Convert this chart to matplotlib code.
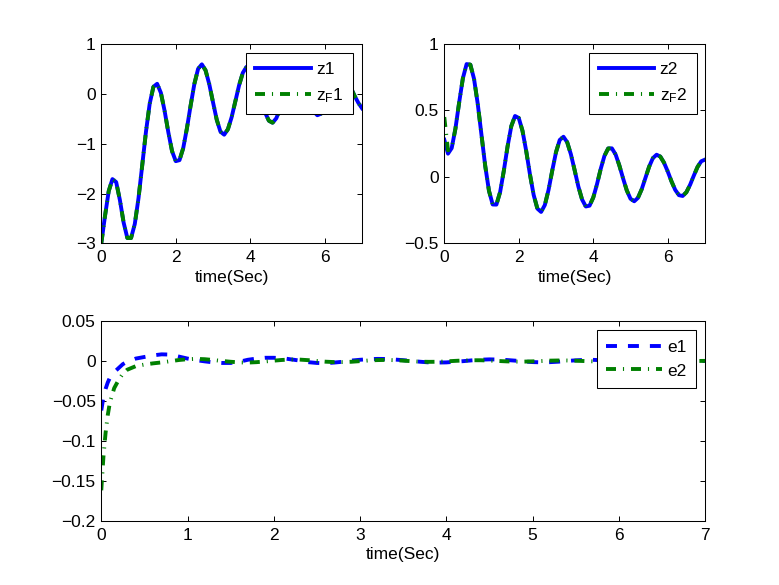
import numpy as np
import matplotlib
matplotlib.use("Agg")
import matplotlib.pyplot as plt
from matplotlib.ticker import FuncFormatter

# tempo (s) das curvas de cima
t = np.round(np.arange(0, 7.05, 0.1), 2)

z1 = [-3.00, -2.45, -1.95, -1.71, -1.77, -2.13, -2.58, -2.89, -2.89, -2.61,
      -2.09, -1.43, -0.76, -0.20, 0.14, 0.20, 0.02, -0.34, -0.77, -1.15,
      -1.35, -1.33, -1.09, -0.69, -0.23, 0.20, 0.50, 0.59, 0.47, 0.19,
      -0.17, -0.52, -0.76, -0.82, -0.71, -0.47, -0.15, 0.17, 0.42, 0.54,
      0.52, 0.37, 0.13, -0.14, -0.38, -0.54, -0.58, -0.49, -0.30, -0.05,
      0.19, 0.37, 0.43, 0.38, 0.23, 0.02, -0.19, -0.35, -0.43, -0.40,
      -0.29, -0.12, 0.06, 0.22, 0.31, 0.31, 0.25, 0.12, -0.04, -0.18,
      -0.29]
zf1 = list(z1)

z2 = [0.280, 0.175, 0.217, 0.363, 0.560, 0.742, 0.848, 0.844, 0.736, 0.547,
      0.314, 0.082, -0.104, -0.207, -0.208, -0.113, 0.048, 0.230, 0.382, 0.458,
      0.443, 0.347, 0.195, 0.020, -0.135, -0.238, -0.263, -0.211, -0.097, 0.049,
      0.186, 0.278, 0.302, 0.261, 0.170, 0.051, -0.072, -0.170, -0.222, -0.216,
      -0.155, -0.055, 0.060, 0.158, 0.214, 0.215, 0.169, 0.087, -0.010, -0.101,
      -0.164, -0.183, -0.157, -0.093, -0.008, 0.077, 0.141, 0.167, 0.153, 0.107,
      0.041, -0.033, -0.097, -0.137, -0.143, -0.115, -0.059, 0.010, 0.075, 0.118,
      0.130]
# o filtro começa mais alto e logo encontra z2
zf2_inicio = [0.45, 0.20]
zf2 = zf2_inicio + z2[2:]

# tempo dos erros: mais denso no começo
te = np.concatenate([[0, 0.025, 0.05, 0.075, 0.1, 0.15, 0.2, 0.25, 0.3],
                     np.round(np.arange(0.4, 7.05, 0.1), 2)])

e1 = [-0.062, -0.045, -0.035, -0.027, -0.021, -0.014, -0.009, -0.004, -0.001,
      0.003, 0.005, 0.007, 0.0083, 0.008, 0.0055, 0.003, 0.001, -0.0005, -0.0018,
      -0.0025, -0.0025, -0.001, 0.0015, 0.003, 0.004, 0.004, 0.0035, 0.002, 0.0005,
      -0.0015, -0.0025, -0.0028, -0.002, -0.001, 0.0005, 0.0015, 0.0022, 0.0026, 0.0025,
      0.0018, 0.001, 0.0, -0.001, -0.0018, -0.002, -0.0018, -0.001, -0.0002, 0.0008,
      0.0016, 0.002, 0.0018, 0.0012, 0.0004, -0.0006, -0.0014, -0.0017, -0.0015, -0.0009,
      0.0, 0.0008, 0.0013, 0.0014, 0.001, 0.0003, -0.0004, -0.001, -0.0012, -0.0009,
      -0.0003, 0.0003, 0.0009, 0.001, 0.0008, 0.0003, -0.0001]

e2 = [-0.162, -0.12, -0.09, -0.068, -0.052, -0.034, -0.024, -0.016, -0.011,
      -0.0065, -0.0045, -0.003, -0.0018, -0.0003, 0.0012, 0.0022, 0.0026, 0.0022, 0.0012,
      0.0, -0.001, -0.0018, -0.002, -0.0015, -0.0006, 0.0004, 0.0013, 0.0018, 0.0017,
      0.001, 0.0, -0.0009, -0.0014, -0.0014, -0.001, -0.0002, 0.0006, 0.0011, 0.0013,
      0.001, 0.0004, -0.0003, -0.0009, -0.0011, -0.001, -0.0005, 0.0001, 0.0006, 0.0009,
      0.0009, 0.0005, 0.0, -0.0005, -0.0008, -0.0008, -0.0005, -0.0001, 0.0004, 0.0006,
      0.0006, 0.0003, -0.0001, -0.0005, -0.0006, -0.0005, -0.0002, 0.0002, 0.0004, 0.0004,
      0.0002, -0.0001, -0.0003, -0.0004, -0.0002, 0.0, 0.0001]

yticks_z1 = [-3, -2, -1, 0, 1]
yticks_z2 = [-0.5, 0, 0.5, 1]
yticks_e = [-0.2, -0.15, -0.1, -0.05, 0, 0.05]

plt.rcParams['font.family'] = ['Liberation Sans', 'DejaVu Sans']
plt.rcParams['font.size'] = 12.5
plt.rcParams['lines.scale_dashes'] = False

AZUL = (0, 0, 1)
VERDE = (0, 0.5, 0)
LW = 2.8
FS = 12.5
TRACO = (0, (7.9, 7.9))
TRACO_PONTO = (0, (7.2, 5.0, 0.8, 5.0))


def formato(v, pos):
    return ('%g' % v).replace('-', '\u2212')


def estilo_eixo(ax, xticks, yticks, ylim):
    ax.set_xlim(0, 7)
    ax.set_ylim(*ylim)
    ax.set_xticks(xticks)
    ax.set_yticks(yticks)
    ax.xaxis.set_major_formatter(FuncFormatter(formato))
    ax.yaxis.set_major_formatter(FuncFormatter(formato))
    ax.tick_params(direction='in', top=True, right=True, length=3.5,
                   width=0.7, labelsize=FS)
    ax.tick_params(axis='x', pad=5)
    ax.tick_params(axis='y', pad=4)
    for s in ax.spines.values():
        s.set_linewidth(0.75)
    ax.set_xlabel('time(Sec)', fontsize=FS, labelpad=3)


def legenda(ax, ancora):
    leg = ax.legend(loc='upper right', bbox_to_anchor=ancora, borderaxespad=0,
                    handlelength=3.2, handletextpad=0.3, labelspacing=0.5,
                    borderpad=0.55, fancybox=False, framealpha=1,
                    edgecolor='black', fontsize=FS)
    leg.get_frame().set_linewidth(0.75)


fig = plt.figure(figsize=(7.79, 5.85), dpi=100)

ax1 = fig.add_axes([0.13, 0.5838, 0.3347, 0.3412])
ax1.plot(t, z1, color=AZUL, lw=LW, label='z1')
ax1.plot(t, zf1, color=VERDE, lw=LW, linestyle=TRACO_PONTO,
         dash_capstyle='butt', label='$\\mathregular{z_F1}$')
estilo_eixo(ax1, [0, 2, 4, 6], yticks_z1, (-3, 1))
legenda(ax1, (0.966, 0.956))

ax2 = fig.add_axes([0.5703, 0.5838, 0.3347, 0.3412])
ax2.plot(t, z2, color=AZUL, lw=LW, label='z2')
ax2.plot(t, zf2, color=VERDE, lw=LW, linestyle=TRACO_PONTO,
         dash_capstyle='butt', label='$\\mathregular{z_F2}$')
estilo_eixo(ax2, [0, 2, 4, 6], yticks_z2, (-0.5, 1))
legenda(ax2, (0.968, 0.956))

ax3 = fig.add_axes([0.13, 0.11, 0.775, 0.3412])
ax3.plot(te, e1, color=AZUL, lw=LW, linestyle=TRACO,
         dash_capstyle='butt', label='e1')
ax3.plot(te, e2, color=VERDE, lw=LW, linestyle=TRACO_PONTO,
         dash_capstyle='butt', label='e2')
estilo_eixo(ax3, list(range(8)), yticks_e, (-0.2, 0.05))
legenda(ax3, (0.985, 0.955))

fig.savefig('out.png', dpi=100)
